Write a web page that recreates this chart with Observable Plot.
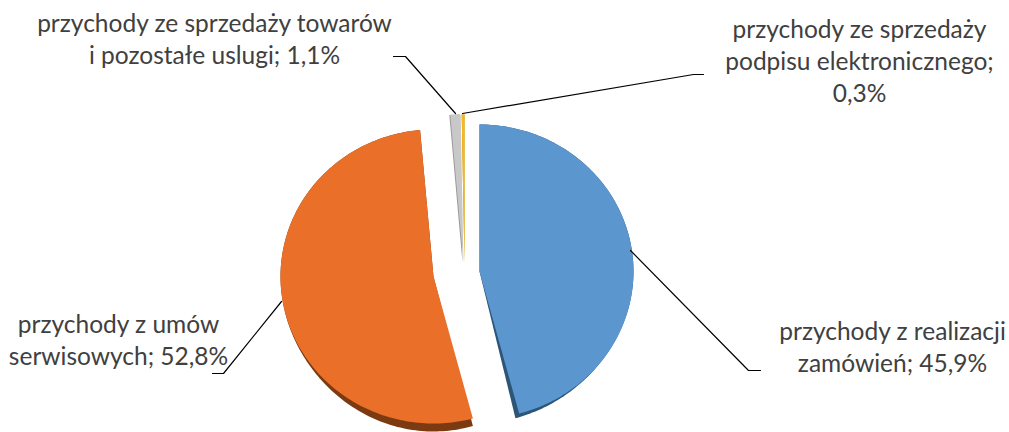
<!DOCTYPE html>
<html><head><meta charset="utf-8">
<script src="https://cdn.jsdelivr.net/npm/d3@7"></script>
<script src="https://cdn.jsdelivr.net/npm/@observablehq/plot@0.6"></script>
<style>html,body{margin:0;padding:0;background:#fff}svg{display:block}</style>
</head><body><div id="chart"></div>
<script>
const categories = ["przychody z realizacji zamówień","przychody z umów serwisowych","przychody ze sprzedaży towarów i pozostałe uslugi","przychody ze sprzedaży podpisu elektronicznego"];
const shares = [45.9, 52.8, 1.1, 0.3];
const labelLines = [["przychody z realizacji","zamówień; 45,9%"],["przychody z umów","serwisowych; 52,8%"],["przychody ze sprzedaży towarów","i pozostałe uslugi; 1,1%"],["przychody ze sprzedaży","podpisu elektronicznego;","0,3%"]];
const colors = ["#5b96cf","#ea7029","#c8c8c8","#f5b91e"];
const shadowColors = ["#2c5578","#7c3a12","#9a9a9a","#b98c10"];
// layout: exploded centres, radii, depth of each slice
const cx = [479,433,463,464], cy = [271,276,262,262], rx = [154,153,150,150], ry = [147,147,148,148];
const sdx = [-4,0,0,0], sdy = [5,8,0,0], edge = [0,0,-1,0];
const labelPos = [[892,332],[118,325],[214,24],[859,30]];
const leaders = [[[630,250],[748,370],[760,370]],[[281,301],[223,373],[212,373]],[[393,56],[405,56],[455,113]],[[462,113],[693,74],[703,74]]];
const lineH = 32;

const total = d3.sum(shares);
let acc = 0;
const slices = shares.map((v,i)=>{const a0=acc/total*2*Math.PI; acc+=v; return {i,a0,a1:acc/total*2*Math.PI};});
const pts = (s,shadow)=>{
  const i=s.i, n=Math.max(3,Math.ceil((s.a1-s.a0)/0.02));
  const e=shadow?edge[i]:0, out=[{k:i,x:cx[i]+e,y:cy[i]}];
  for(let j=0;j<=n;j++){
    const a=s.a0+(s.a1-s.a0)*j/n, t=shadow?Math.max(0,-Math.cos(a))**2:0;
    out.push({k:i,x:cx[i]+e+sdx[i]*t+rx[i]*Math.sin(a),y:cy[i]+sdy[i]*t-ry[i]*Math.cos(a)});
  }
  out.push(out[0]);return out;};
const face = slices.flatMap(s=>pts(s,false));
const shade = slices.flatMap(s=>pts(s,true));
const lead = leaders.flatMap((l,i)=>l.map(([x,y])=>({i,x,y})));
const text = labelLines.flatMap((ls,i)=>ls.map((t,j)=>({t,x:labelPos[i][0],y:labelPos[i][1]+j*lineH})));
const chart = Plot.plot({
  width:1009,height:432,margin:0,
  x:{domain:[0,1009],range:[0,1009],axis:null},
  y:{domain:[0,432],range:[0,432],axis:null},
  marks:[
    ...slices.map(s=>Plot.line(shade.filter(d=>d.k===s.i),{x:"x",y:"y",fill:shadowColors[s.i],stroke:"none",curve:"linear"})),
    ...slices.map(s=>Plot.line(face.filter(d=>d.k===s.i),{x:"x",y:"y",fill:colors[s.i],stroke:"none",curve:"linear"})),
    Plot.line(lead,{x:"x",y:"y",z:"i",stroke:"#000",strokeWidth:1.2,curve:"linear"}),
    Plot.text(text,{x:"x",y:"y",text:"t",fontSize:24.5,fill:"#404040",fontFamily:"Lato, Carlito, sans-serif"})
  ]
});
document.getElementById("chart").append(chart);
</script></body></html>
